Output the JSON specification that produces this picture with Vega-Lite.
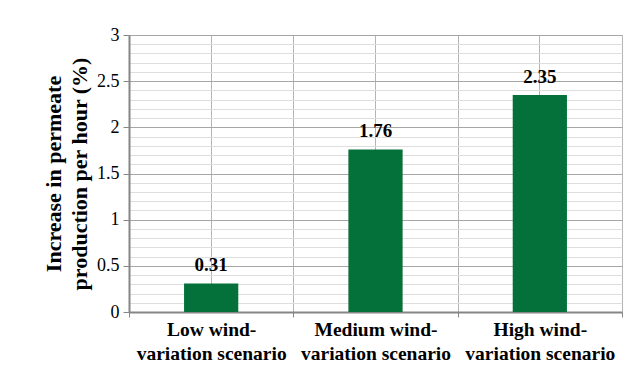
{
  "$schema": "https://vega.github.io/schema/vega-lite/v6.json",
  "width": 493,
  "height": 277,
  "autosize": {"type": "none"},
  "padding": {"left": 129, "top": 35, "right": 17, "bottom": 62},
  "background": "white",
  "config": {
    "view": {"stroke": null},
    "font": "Liberation Serif"
  },
  "data": {
    "values": [
      {"scenario": "Low wind-variation scenario", "increase": 0.31},
      {"scenario": "Medium wind-variation scenario", "increase": 1.76},
      {"scenario": "High wind-variation scenario", "increase": 2.35}
    ]
  },
  "resolve": {"axis": {"x": "independent"}},
  "encoding": {
    "y": {
      "field": "increase",
      "type": "quantitative",
      "scale": {"domain": [0, 3], "nice": false},
      "axis": {
        "title": ["Increase in permeate", "production per hour (%)"],
        "titleFont": "Liberation Serif",
        "titleFontSize": 22,
        "titleFontWeight": "bold",
        "titleColor": "black",
        "titlePadding": 5,
        "titleLineHeight": 26,
        "values": [0, 0.1, 0.2, 0.3, 0.4, 0.5, 0.6, 0.7, 0.8, 0.9, 1, 1.1, 1.2, 1.3, 1.4, 1.5, 1.6, 1.7, 1.8, 1.9, 2, 2.1, 2.2, 2.3, 2.4, 2.5, 2.6, 2.7, 2.8, 2.9, 3],
        "format": ".1~f",
        "labelExpr": "abs(datum.value * 2 - round(datum.value * 2)) < 0.001 ? datum.label : ''",
        "labelFont": "Liberation Serif",
        "labelFontSize": 18,
        "labelColor": "black",
        "labelPadding": 4,
        "tickSize": 6,
        "tickColor": {"condition": {"test": "abs(datum.value * 2 - round(datum.value * 2)) < 0.001", "value": "#868686"}, "value": "transparent"},
        "domainColor": "#868686",
        "domainWidth": 2,
        "grid": true,
        "gridColor": {"condition": {"test": "abs(datum.value * 2 - round(datum.value * 2)) < 0.001", "value": "#a6a6a6"}, "value": "#dedede"},
        "gridWidth": 1
      }
    }
  },
  "layer": [
    {
      "mark": {"type": "bar", "color": "#05713a", "width": {"band": 0.33}},
      "encoding": {
        "x": {
          "field": "scenario",
          "type": "nominal",
          "sort": null,
          "scale": {"paddingInner": 0, "paddingOuter": 0},
          "axis": {
            "orient": "top",
            "title": null,
            "labels": false,
            "ticks": false,
            "domain": false,
            "grid": true,
            "bandPosition": 0.5,
            "tickBand": "center",
            "gridColor": "#b4b4b4",
            "gridWidth": 1
          }
        }
      }
    },
    {
      "mark": {"type": "text", "font": "Liberation Serif", "fontSize": 19, "fontWeight": "bold", "color": "black", "baseline": "alphabetic", "dy": -12},
      "encoding": {
        "x": {
          "field": "scenario",
          "type": "nominal",
          "sort": null,
          "axis": {
            "orient": "bottom",
            "title": null,
            "labelAngle": 0,
            "labelExpr": "[slice(datum.label, 0, indexof(datum.label, '-') + 1), slice(datum.label, indexof(datum.label, '-') + 1)]",
            "labelFont": "Liberation Serif",
            "labelFontSize": 19.5,
            "labelFontWeight": "bold",
            "labelColor": "black",
            "labelLineHeight": 24,
            "labelPadding": 3,
            "tickBand": "extent",
            "tickSize": 5,
            "tickColor": "#868686",
            "domainColor": "#868686",
            "domainWidth": 2,
            "grid": true,
            "gridColor": "#b4b4b4",
            "gridWidth": 1
          }
        },
        "text": {"field": "increase", "type": "quantitative", "format": ".2f"}
      }
    }
  ]
}
